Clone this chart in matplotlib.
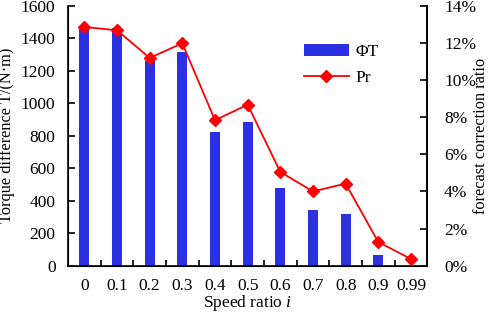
import matplotlib
matplotlib.use("Agg")
import matplotlib.pyplot as plt
import numpy as np

categories = ["0", "0.1", "0.2", "0.3", "0.4", "0.5", "0.6", "0.7", "0.8", "0.9", "0.99"]
torque_diff = [1468, 1462, 1259, 1317, 823, 882, 479, 343, 317, 64, 0]
correction_pct = [12.87, 12.69, 11.2, 11.99, 7.84, 8.68, 5.05, 4.0, 4.42, 1.27, 0.36]
left_ticks = [0, 200, 400, 600, 800, 1000, 1200, 1400, 1600]
right_ticks = [0, 2, 4, 6, 8, 10, 12, 14]

plt.rcParams['font.family'] = ['Liberation Serif', 'DejaVu Serif']
plt.rcParams['mathtext.fontset'] = 'custom'
plt.rcParams['mathtext.rm'] = 'Liberation Serif'
plt.rcParams['mathtext.it'] = 'Liberation Serif:italic'
FS = 12.5

W, H = 491, 313
fig = plt.figure(figsize=(W / 100, H / 100), dpi=100)
x0, x1, y0, y1 = 68, 427.3, 6, 265.6
ax = fig.add_axes([x0 / W, (H - y1) / H, (x1 - x0) / W, (y1 - y0) / H])

x = np.arange(len(categories))
ax.bar(x, torque_diff, width=0.31, color='#2b30e0', label='ΦT', zorder=2)
ax.set_xlim(-0.5, len(categories) - 0.5)
ax.set_ylim(0, 1600)
ax.set_yticks(left_ticks)
ax.set_yticklabels([str(v) for v in left_ticks], fontsize=FS)
ax.set_xticks(x)
ax.set_xticklabels(categories, fontsize=FS)
ax.set_xticks(np.arange(0.5, len(categories) - 1, 1.0), minor=True)
ax.tick_params(axis='x', which='major', length=0, pad=9)
ax.tick_params(axis='x', which='minor', direction='in', length=4, width=1.2)
ax.tick_params(axis='y', direction='in', length=5, width=1.2, pad=9)
ax.spines['top'].set_visible(False)
for s in ['left', 'bottom', 'right']:
    ax.spines[s].set_linewidth(1.2)
ax.set_xlabel('Speed ratio $\\mathit{i}$', fontsize=FS, labelpad=-0.5)
ax.set_ylabel('Torque difference T/(N·m)', fontsize=11.8, labelpad=4)

ax2 = ax.twinx()
ax2.plot(x, correction_pct, color='#ff0000', lw=1.3, marker='D', markersize=6,
         label='Pr', zorder=3)
ax2.set_ylim(0, 14)
ax2.set_yticks(right_ticks)
ax2.set_yticklabels([f"{v}%" for v in right_ticks], fontsize=FS)
ax2.tick_params(axis='y', direction='in', length=5, width=1.2, pad=12)
ax2.spines['top'].set_visible(False)
ax2.spines['right'].set_linewidth(1.2)
ax2.set_ylabel('forecast correction ratio', fontsize=11.8, labelpad=-2)

h1, l1 = ax.get_legend_handles_labels()
h2, l2 = ax2.get_legend_handles_labels()
ax2.legend(h1 + h2, l1 + l2, loc='upper left', bbox_to_anchor=(288 / W, (H - 28) / H),
           bbox_transform=fig.transFigure, frameon=False, fontsize=FS,
           handlelength=2.6, handletextpad=0.4, labelspacing=0.6)

fig.savefig('out.png', dpi=100)
